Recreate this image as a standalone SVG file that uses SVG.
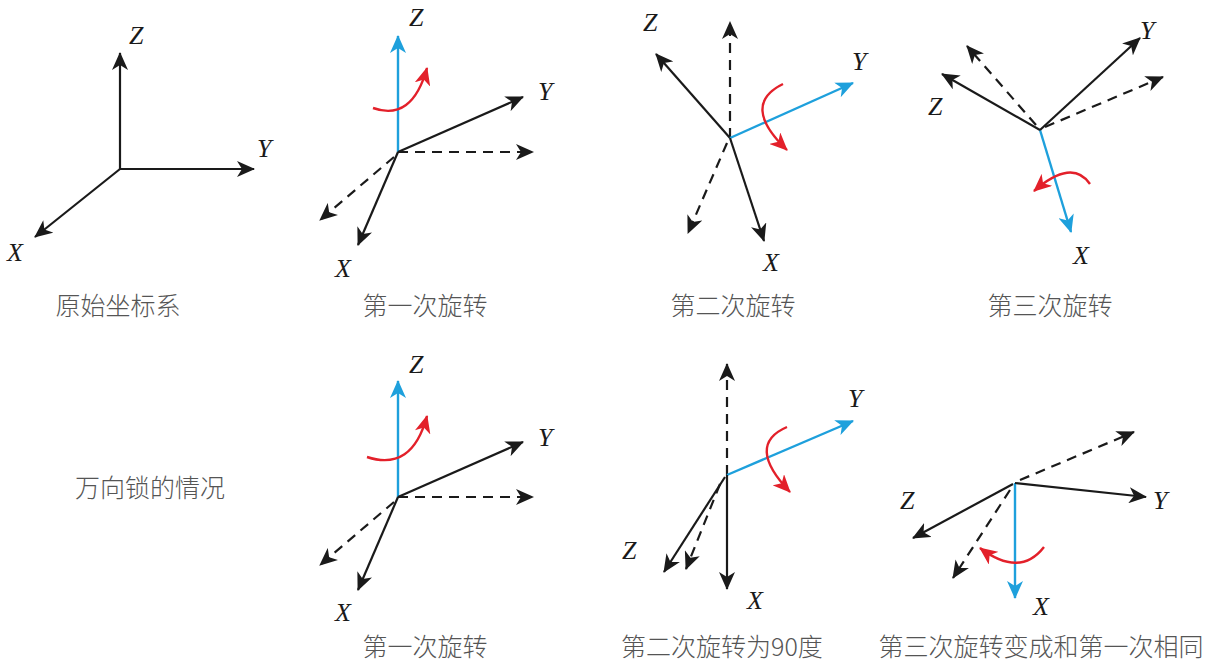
<svg xmlns="http://www.w3.org/2000/svg" width="1215" height="664" viewBox="0 0 1215 664">
<defs>
<marker id="ak" viewBox="0 0 18 16" refX="17" refY="8" markerWidth="18" markerHeight="16" markerUnits="userSpaceOnUse" orient="auto"><path d="M0,0 L18,8 L0,16 L5,8 z" fill="#1a1a1a" stroke="none"/></marker>
<marker id="ab" viewBox="0 0 18 16" refX="17" refY="8" markerWidth="18" markerHeight="16" markerUnits="userSpaceOnUse" orient="auto"><path d="M0,0 L18,8 L0,16 L5,8 z" fill="#1ea0dc" stroke="none"/></marker>
<marker id="ar" viewBox="0 0 18 16" refX="17" refY="8" markerWidth="18" markerHeight="16" markerUnits="userSpaceOnUse" orient="auto"><path d="M0,0 L18,8 L0,16 L5,8 z" fill="#e3202a" stroke="none"/></marker>
</defs>
<style>
.s{stroke:#1a1a1a;stroke-width:2.2;fill:none;marker-end:url(#ak)}
.d{stroke:#1a1a1a;stroke-width:2.2;fill:none;stroke-dasharray:10,7;marker-end:url(#ak)}
.b{stroke:#1ea0dc;stroke-width:2.4;fill:none;marker-end:url(#ab)}
.r{stroke:#e3202a;stroke-width:2.4;fill:none;marker-end:url(#ar)}
.ax{font-family:"Liberation Serif",serif;font-style:italic;font-size:26px;fill:#1a1a1a}
.cap{font-family:"Noto Sans CJK SC","Noto Sans CJK JP",sans-serif;font-size:25px;fill:#555;text-anchor:middle;font-weight:300}
</style>
<rect width="1215" height="664" fill="#fff"/>
<g id="connectors">
<line class="s" x1="120" y1="169" x2="120" y2="53"/>
<line class="s" x1="120" y1="169" x2="254" y2="169"/>
<path class="s" d="M120,169 L35,237"/>
<line class="b" x1="398" y1="152" x2="398" y2="36"/>
<line class="s" x1="398" y1="152" x2="523" y2="97"/>
<line class="d" x1="398" y1="152" x2="533" y2="152"/>
<line class="d" x1="394" y1="157" x2="320" y2="220"/>
<line class="s" x1="398" y1="152" x2="358" y2="245"/>
<path class="r" d="M373,108 Q412,122 427,68"/>
<line class="d" x1="730" y1="138" x2="730" y2="22"/>
<line class="s" x1="730" y1="138" x2="656" y2="54"/>
<line class="b" x1="730" y1="138" x2="853" y2="83"/>
<line class="d" x1="727" y1="143" x2="688" y2="233"/>
<line class="s" x1="730" y1="138" x2="764" y2="241"/>
<path class="r" d="M783,84 Q740,105 787,150"/>
<line class="b" x1="1040" y1="130" x2="1071" y2="232"/>
<line class="s" x1="1040" y1="130" x2="1140" y2="38"/>
<line class="d" x1="1045" y1="127" x2="1163" y2="77"/>
<line class="s" x1="1040" y1="130" x2="942" y2="74"/>
<line class="d" x1="1036" y1="125" x2="967" y2="46"/>
<path class="r" d="M1090,184 Q1072,158 1034,191"/>
<line class="b" x1="398" y1="497" x2="398" y2="381"/>
<line class="s" x1="398" y1="497" x2="523" y2="442"/>
<line class="d" x1="398" y1="497" x2="533" y2="497"/>
<line class="d" x1="394" y1="502" x2="320" y2="565"/>
<line class="s" x1="398" y1="497" x2="358" y2="590"/>
<path class="r" d="M367,457 Q412,472 427,416"/>
<line class="d" x1="727" y1="475" x2="727" y2="364"/>
<line class="b" x1="727" y1="475" x2="853" y2="421"/>
<line class="s" x1="727" y1="475" x2="727" y2="589"/>
<line class="s" x1="725" y1="477" x2="664" y2="572"/>
<line class="d" x1="720" y1="484" x2="686" y2="569"/>
<path class="r" d="M787,427 Q745,445 790,492"/>
<line class="b" x1="1015" y1="483" x2="1015" y2="598"/>
<line class="s" x1="1015" y1="483" x2="1146" y2="497"/>
<line class="d" x1="1020" y1="480" x2="1134" y2="432"/>
<line class="s" x1="1013" y1="484" x2="913" y2="538"/>
<line class="d" x1="1010" y1="490" x2="953" y2="578"/>
<path class="r" d="M1044,547 Q1020,578 980,548"/>
</g>
<g id="n1"><text class="ax" x="129" y="44">Z</text><text class="ax" x="257" y="157">Y</text><text class="ax" x="7" y="261">X</text><text class="cap" x="118" y="315">原始坐标系</text></g>
<g id="n2"><text class="ax" x="409" y="26">Z</text><text class="ax" x="538" y="100">Y</text><text class="ax" x="335" y="277">X</text><text class="cap" x="425" y="315">第一次旋转</text></g>
<g id="n3"><text class="ax" x="643" y="31">Z</text><text class="ax" x="852" y="70">Y</text><text class="ax" x="763" y="271">X</text><text class="cap" x="733" y="315">第二次旋转</text></g>
<g id="n4"><text class="ax" x="928" y="115">Z</text><text class="ax" x="1140" y="39">Y</text><text class="ax" x="1073" y="264">X</text><text class="cap" x="1050" y="315">第三次旋转</text></g>
<g id="n5"><text class="cap" x="150" y="497">万向锁的情况</text></g>
<g id="n6"><text class="ax" x="409" y="373">Z</text><text class="ax" x="538" y="446">Y</text><text class="ax" x="335" y="621">X</text><text class="cap" x="425" y="656">第一次旋转</text></g>
<g id="n7"><text class="ax" x="622" y="559">Z</text><text class="ax" x="848" y="407">Y</text><text class="ax" x="747" y="609">X</text><text class="cap" x="722" y="656">第二次旋转为90度</text></g>
<g id="n8"><text class="ax" x="900" y="509">Z</text><text class="ax" x="1153" y="509">Y</text><text class="ax" x="1033" y="615">X</text><text class="cap" x="1041" y="656">第三次旋转变成和第一次相同</text></g>
</svg>
